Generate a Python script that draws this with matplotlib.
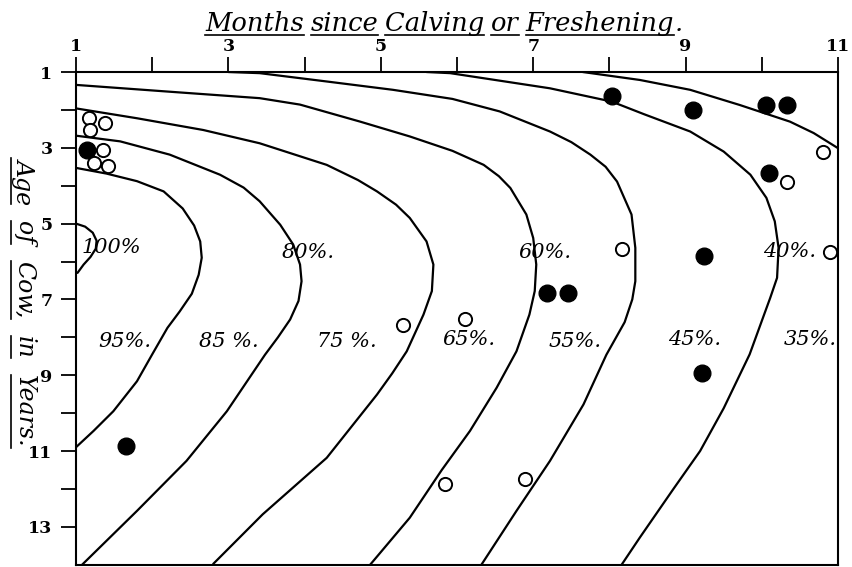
import matplotlib
matplotlib.use("Agg")
import matplotlib.pyplot as plt
from matplotlib.lines import Line2D

# axis ticks
month_major = [1, 3, 5, 7, 9, 11]
month_minor = [2, 4, 6, 8, 10]
age_major = [1, 3, 5, 7, 9, 11, 13]
age_minor = [2, 4, 6, 8, 10, 12]

# iso-lines, (month, age)
iso_100 = [(1.0, 5.0), (1.12, 5.08), (1.22, 5.24), (1.27, 5.45), (1.26, 5.66), (1.19, 5.88), (1.1, 6.08),
           (1.02, 6.3)]
iso_90 = [(1.0, 3.53), (1.4, 3.68), (1.8, 3.88), (2.15, 4.15), (2.4, 4.6), (2.55, 5.05), (2.63, 5.47),
          (2.65, 5.9), (2.61, 6.35), (2.52, 6.85), (2.36, 7.32), (2.2, 7.75), (2.0, 8.45), (1.8, 9.16),
          (1.49, 9.95), (1.23, 10.47), (1.0, 10.9)]
iso_80 = [(1.0, 2.68), (1.58, 2.83), (2.23, 3.18), (2.89, 3.71), (3.2, 4.05), (3.41, 4.41), (3.68, 5.03),
          (3.85, 5.55), (3.94, 6.08), (3.96, 6.52), (3.92, 7.04), (3.81, 7.53), (3.65, 8.0), (3.48, 8.46),
          (2.98, 9.95), (2.45, 11.26), (1.8, 12.58), (1.08, 14.0)]
iso_70 = [(1.0, 1.96), (1.8, 2.22), (2.67, 2.53), (3.41, 2.88), (4.29, 3.45), (4.7, 3.85), (4.95, 4.15),
          (5.2, 4.5), (5.38, 4.85), (5.6, 5.47), (5.69, 6.08), (5.67, 6.78), (5.56, 7.4), (5.34, 8.37),
          (5.15, 8.95), (4.95, 9.51), (4.29, 11.18), (3.45, 12.67), (2.8, 13.98)]
iso_60 = [(1.0, 1.34), (2.23, 1.52), (3.41, 1.69), (3.94, 1.86), (4.73, 2.31), (5.38, 2.7), (5.94, 3.08),
          (6.35, 3.45), (6.55, 3.75), (6.7, 4.06), (6.91, 4.76), (7.0, 5.38), (7.04, 6.08), (7.02, 6.78),
          (6.95, 7.4), (6.78, 8.37), (6.52, 9.33), (6.17, 10.47), (5.8, 11.5), (5.38, 12.76), (4.86, 14.0)]
iso_50 = [(3.0, 1.0), (3.41, 1.03), (4.29, 1.25), (5.16, 1.47), (5.94, 1.71), (6.56, 2.04), (7.22, 2.57),
          (7.5, 2.85), (7.75, 3.18), (7.95, 3.5), (8.1, 3.89), (8.29, 4.76), (8.34, 5.64), (8.34, 6.52),
          (8.3, 7.0), (8.2, 7.6), (7.96, 8.46), (7.66, 9.77), (7.22, 11.26), (6.78, 12.58), (6.32, 14.0)]
iso_40 = [(5.6, 1.0), (5.91, 1.03), (7.22, 1.43), (8.03, 1.78), (8.45, 2.11), (9.06, 2.57), (9.5, 3.1),
          (9.85, 3.71), (10.06, 4.32), (10.17, 4.94), (10.22, 5.64), (10.2, 6.43), (10.11, 6.96), (10.03, 7.4),
          (9.84, 8.45), (9.5, 9.87), (9.19, 11.0), (8.84, 12.0), (8.4, 13.28), (8.16, 14.0)]
iso_30 = [(7.65, 1.0), (8.4, 1.21), (9.06, 1.47), (9.71, 1.87), (10.37, 2.31), (10.68, 2.61), (11.0, 3.01)]

# cows
filled_month = [1.14, 8.03, 9.10, 10.06, 10.33, 10.10, 9.24, 7.18, 7.46, 9.21, 1.66]
filled_age = [3.05, 1.62, 2.0, 1.87, 1.87, 3.67, 5.86, 6.82, 6.82, 8.94, 10.87]
open_month = [1.17, 1.19, 1.38, 1.36, 1.24, 1.42, 10.80, 10.33, 10.90, 8.17, 5.29, 6.10, 5.84, 6.89]
open_age = [2.22, 2.53, 2.35, 3.05, 3.40, 3.47, 3.12, 3.89, 5.74, 5.68, 7.68, 7.51, 11.88, 11.73]

# percentage labels
pct_text = ["100%", "80%.", "60%.", "40%.", "95%.", "85 %.", "75 %.", "65%.", "55%.", "45%.", "35%."]
pct_month = [1.47, 4.05, 7.15, 10.37, 1.64, 3.0, 4.55, 6.15, 7.55, 9.12, 10.63]
pct_age = [5.62, 5.77, 5.77, 5.73, 8.12, 8.12, 8.1, 8.05, 8.1, 8.06, 8.06]

SERIF = "DejaVu Serif"

fig = plt.figure(figsize=(8.52, 5.67), dpi=100)
ax = fig.add_axes([0.0892, 0.004, 0.8944, 0.869])

for curve in [iso_100, iso_90, iso_80, iso_70, iso_60, iso_50, iso_40, iso_30]:
    xs = [p[0] for p in curve]
    ys = [p[1] for p in curve]
    ax.plot(xs, ys, color="black", lw=1.6, solid_joinstyle="round", solid_capstyle="round", zorder=2)

ax.plot(filled_month, filled_age, "o", ls="none", color="black", ms=12, zorder=3)
ax.plot(open_month, open_age, "o", ls="none", mfc="white", mec="black", ms=9.5, mew=1.4, zorder=3)

for s, x, y in zip(pct_text, pct_month, pct_age):
    ax.text(x, y, s, ha="center", va="center", family=SERIF, fontstyle="italic", fontsize=15, zorder=4)

ax.set_xlim(1, 11)
ax.set_ylim(14, 1)
ax.xaxis.tick_top()
ax.set_xticks(month_major)
ax.set_xticks(month_minor, minor=True)
ax.set_yticks(age_major)
ax.set_yticks(age_minor, minor=True)
ax.tick_params(axis="both", which="both", direction="out", length=11, width=1.3)
ax.tick_params(axis="x", which="major", pad=1)
ax.tick_params(axis="y", which="major", pad=6)
for lab in ax.get_xticklabels() + ax.get_yticklabels():
    lab.set_family(SERIF)
    lab.set_fontweight("bold")
    lab.set_fontsize(12.5)
for sp in ax.spines.values():
    sp.set_linewidth(1.5)

renderer = fig.canvas.get_renderer()
inv = fig.transFigure.inverted()

# underlined title, word by word
x = 205 / 852
base = 1 - 31 / 567
for w in ["Months", "since", "Calving", "or", "Freshening"]:
    t = fig.text(x, base, w, ha="left", va="baseline", family=SERIF, fontstyle="italic", fontsize=18.5)
    bb = t.get_window_extent(renderer).transformed(inv)
    fig.add_artist(Line2D([bb.x0, bb.x1], [1 - 35 / 567] * 2, color="black", lw=1.2))
    x = bb.x1 + 0.008
fig.text(x - 0.007, base, ".", ha="left", va="baseline", family=SERIF, fontstyle="italic", fontsize=18.5)

# underlined vertical label, reading downwards
y = 1 - 158 / 567
for w in ["Age", "of", "Cow,", "in", "Years."]:
    t = fig.text(24 / 852, y, w, ha="center", va="top", rotation=-90, family=SERIF,
                 fontstyle="italic", fontsize=17)
    bb = t.get_window_extent(renderer).transformed(inv)
    fig.add_artist(Line2D([bb.x0 - 0.002] * 2, [bb.y0, bb.y1], color="black", lw=1.2))
    y = bb.y0 - 0.03

fig.savefig("out.png", dpi=100)
